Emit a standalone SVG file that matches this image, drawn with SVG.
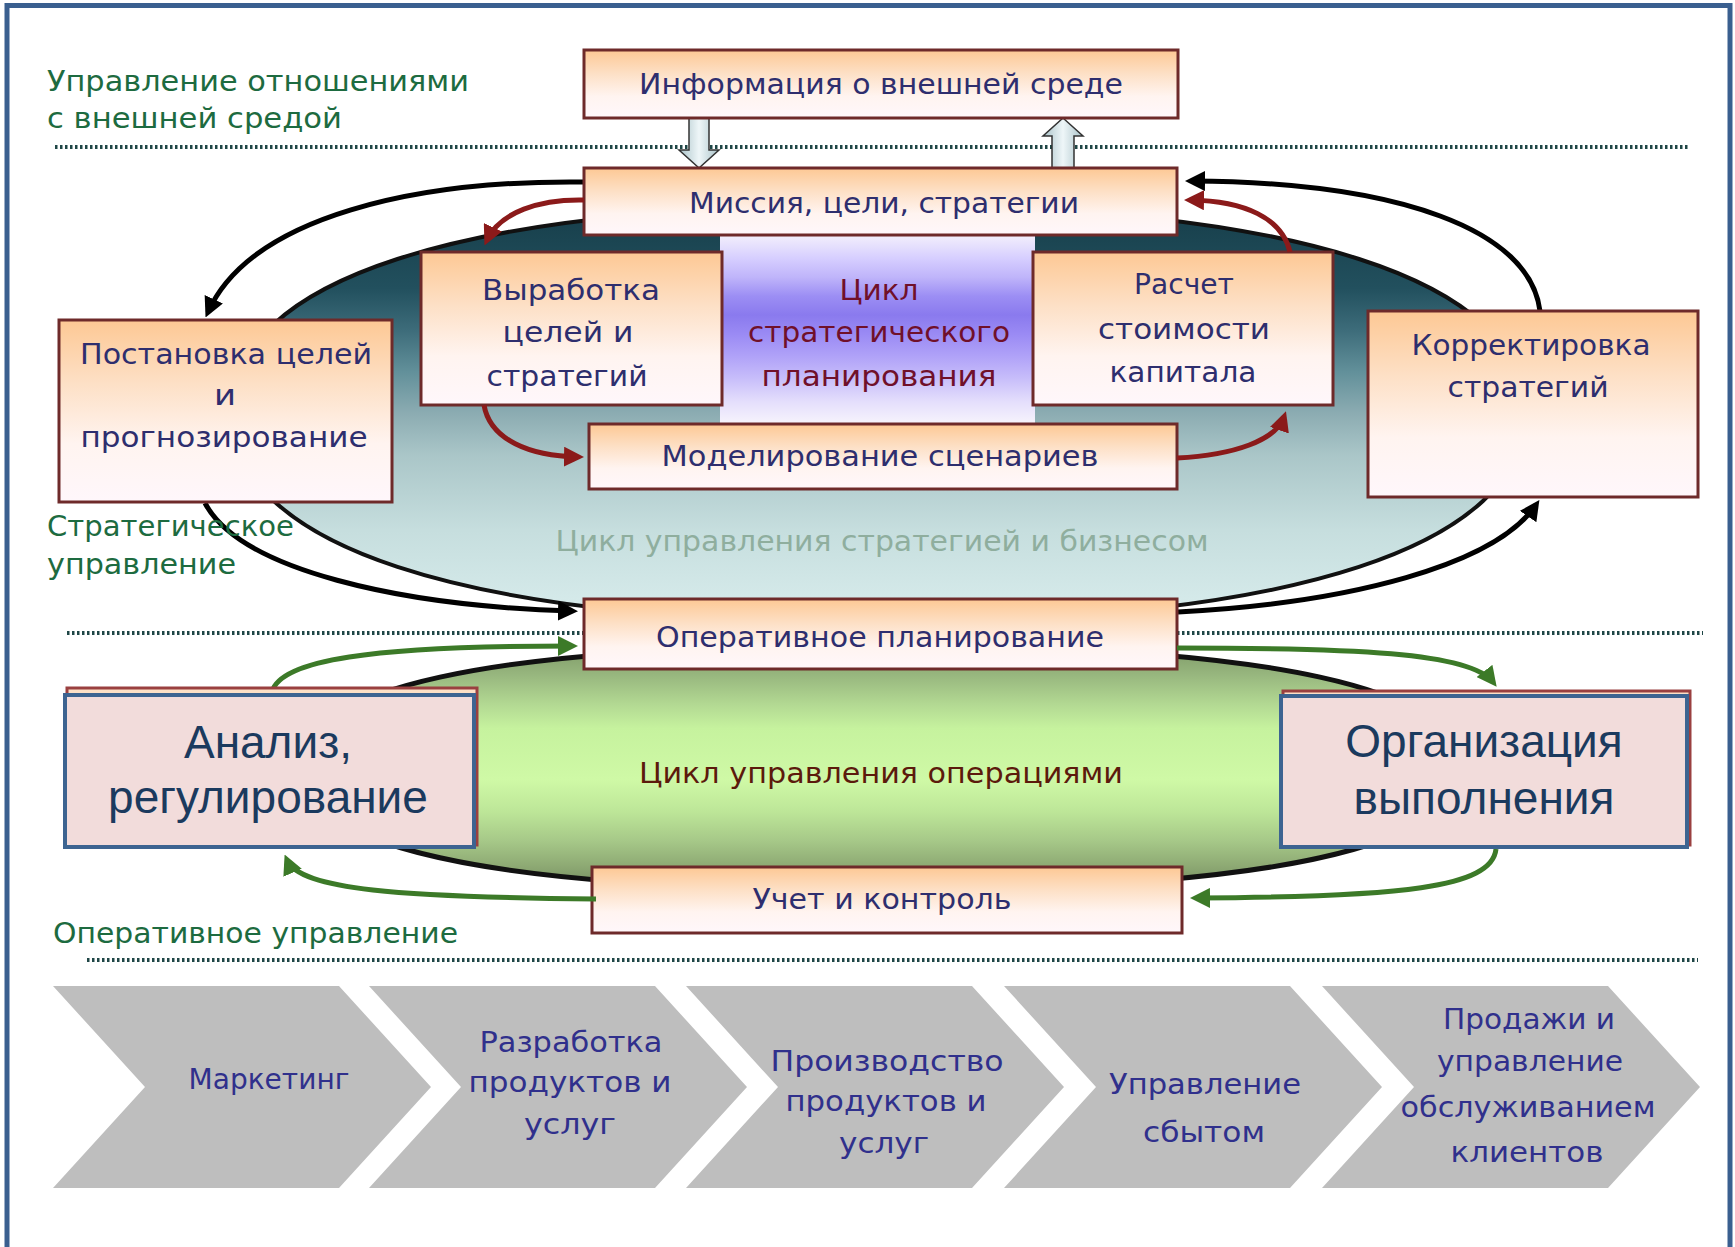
<svg xmlns="http://www.w3.org/2000/svg" width="1735" height="1247" viewBox="0 0 1735 1247">
<defs>
  <linearGradient id="boxg" x1="0" y1="0" x2="0" y2="1">
    <stop offset="0" stop-color="#fdc894"/>
    <stop offset="0.35" stop-color="#fde0c6"/>
    <stop offset="0.68" stop-color="#fff4f0"/>
    <stop offset="1" stop-color="#fff7fb"/>
  </linearGradient>
  <linearGradient id="stratg" gradientUnits="userSpaceOnUse" x1="0" y1="205" x2="0" y2="622">
    <stop offset="0" stop-color="#163d49"/>
    <stop offset="0.2" stop-color="#22505e"/>
    <stop offset="0.3" stop-color="#3d6c7a"/>
    <stop offset="0.4" stop-color="#62909a"/>
    <stop offset="0.5" stop-color="#8cacb2"/>
    <stop offset="0.6" stop-color="#aac6c8"/>
    <stop offset="0.78" stop-color="#c6dede"/>
    <stop offset="1" stop-color="#d9eded"/>
  </linearGradient>
  <linearGradient id="purpg" gradientUnits="userSpaceOnUse" x1="0" y1="236" x2="0" y2="424">
    <stop offset="0" stop-color="#f2eefc"/>
    <stop offset="0.12" stop-color="#d6ceff"/>
    <stop offset="0.22" stop-color="#bfb4fa"/>
    <stop offset="0.32" stop-color="#9c8ef4"/>
    <stop offset="0.42" stop-color="#8a7aee"/>
    <stop offset="0.52" stop-color="#9a8af4"/>
    <stop offset="0.64" stop-color="#b0a2f8"/>
    <stop offset="0.76" stop-color="#c8befa"/>
    <stop offset="0.88" stop-color="#e4defc"/>
    <stop offset="1" stop-color="#f7f4fc"/>
  </linearGradient>
  <linearGradient id="greeng" gradientUnits="userSpaceOnUse" x1="0" y1="645" x2="0" y2="890">
    <stop offset="0" stop-color="#7d9866"/>
    <stop offset="0.12" stop-color="#97b67e"/>
    <stop offset="0.24" stop-color="#b2d892"/>
    <stop offset="0.34" stop-color="#c6f29e"/>
    <stop offset="0.55" stop-color="#cff9a6"/>
    <stop offset="0.68" stop-color="#bde698"/>
    <stop offset="0.8" stop-color="#a6c888"/>
    <stop offset="0.9" stop-color="#8eaa74"/>
    <stop offset="1" stop-color="#728a5e"/>
  </linearGradient>
  <linearGradient id="hollowg" x1="0" y1="0" x2="1" y2="0">
    <stop offset="0" stop-color="#a9c2c8"/>
    <stop offset="0.5" stop-color="#eef6f8"/>
    <stop offset="1" stop-color="#a9c2c8"/>
  </linearGradient>
  <marker id="mb" viewBox="0 0 10 10" refX="7" refY="5" markerWidth="4" markerHeight="4" orient="auto"><path d="M0,0 L10,5 L0,10 Z" fill="#000"/></marker>
  <marker id="mr" viewBox="0 0 10 10" refX="7" refY="5" markerWidth="4" markerHeight="4" orient="auto"><path d="M0,0 L10,5 L0,10 Z" fill="#8b1a1a"/></marker>
  <marker id="mg" viewBox="0 0 10 10" refX="7" refY="5" markerWidth="4" markerHeight="4" orient="auto"><path d="M0,0 L10,5 L0,10 Z" fill="#3c7a28"/></marker>
</defs>
<style>
  .box { fill: url(#boxg); stroke: #6e2a2a; stroke-width: 3; }
  .ov { fill: #f2dcdb; stroke: #3d6491; stroke-width: 4; }
  .under { fill: #fde0c6; stroke: #9a4040; stroke-width: 3; }
  .t { font-family: "DejaVu Sans", "Liberation Sans", sans-serif; font-size: 28px; fill: #2e2e6e; text-anchor: middle; }
  .ct { font-family: "DejaVu Sans", "Liberation Sans", sans-serif; font-size: 28px; fill: #30308c; text-anchor: middle; }
  .sec { font-family: "DejaVu Sans", "Liberation Sans", sans-serif; font-size: 29px; fill: #1d6b40; }
  .big { font-family: "Liberation Sans", Arial, sans-serif; font-size: 46px; fill: #1b3a5e; text-anchor: middle; }
  .dot { stroke: #1f4646; stroke-width: 4; stroke-dasharray: 2.5 2.5; fill: none; }
  .ab { fill: none; stroke: #000; stroke-width: 5; marker-end: url(#mb); }
  .ar { fill: none; stroke: #8b1a1a; stroke-width: 5; marker-end: url(#mr); }
  .ag { fill: none; stroke: #3c7a28; stroke-width: 5; marker-end: url(#mg); }
  .hollow { fill: url(#hollowg); stroke: #333; stroke-width: 1.5; }
  .chev { fill: #bebebe; }
</style>

<rect x="0" y="0" width="1735" height="1247" fill="#ffffff"/>
<rect x="7" y="5.5" width="1723" height="1270" fill="none" stroke="#3a5f8f" stroke-width="5"/>

<!-- background cycles -->
<g id="strategic-cycle">
  <path d="M 232,412 C 232,280 458,205 878,205 C 1298,205 1525,280 1525,412 C 1525,545 1298,622 878,622 C 458,622 232,545 232,412 Z" fill="url(#stratg)" stroke="#111" stroke-width="4"/>
  <rect x="720" y="236" width="315" height="188" fill="url(#purpg)"/>
</g>
<g id="operations-cycle">
  <path d="M 300,767 C 300,690 480,645 880,645 C 1280,645 1460,690 1460,767 C 1460,845 1280,890 880,890 C 480,890 300,845 300,767 Z" fill="url(#greeng)" stroke="#111" stroke-width="5"/>
</g>

<!-- dotted separators -->
<g id="separators">
  <line class="dot" x1="55" y1="147" x2="1690" y2="147"/>
  <line class="dot" x1="67" y1="633" x2="1703" y2="633"/>
  <line class="dot" x1="87" y1="960" x2="1698" y2="960"/>
</g>

<!-- connectors -->
<g id="connectors">
  <path class="ab" d="M 584,182 C 420,180 252,215 208,312"/>
  <path class="ab" d="M 205,503 C 240,570 400,606 572,611"/>
  <path class="ab" d="M 1178,612 C 1350,603 1495,565 1536,505"/>
  <path class="ab" d="M 1540,311 C 1530,230 1400,182 1191,181"/>
  <path class="hollow" d="M 689,116 L 709,116 L 709,150 L 719,150 L 699,168 L 679,150 L 689,150 Z"/>
  <path class="hollow" d="M 1063,118 L 1083,136 L 1074,136 L 1074,172 L 1052,172 L 1052,136 L 1043,136 Z"/>
</g>

<!-- nodes -->
<g id="node-info"><rect class="box" x="584" y="50" width="594" height="68"/>
  <text class="t" x="881" y="94" textLength="484" lengthAdjust="spacingAndGlyphs">Информация о внешней среде</text></g>
<g id="node-mission"><rect class="box" x="584" y="168" width="593" height="67"/>
  <text class="t" x="884" y="213" textLength="390" lengthAdjust="spacingAndGlyphs">Миссия, цели, стратегии</text></g>
<g id="node-vyrabotka"><rect class="box" x="421" y="252" width="301" height="153"/>
  <text class="t" x="571" y="300" textLength="178" lengthAdjust="spacingAndGlyphs">Выработка</text>
  <text class="t" x="568" y="342" textLength="131" lengthAdjust="spacingAndGlyphs">целей и</text>
  <text class="t" x="567" y="386" textLength="161" lengthAdjust="spacingAndGlyphs">стратегий</text></g>
<g id="label-strat-planning">
  <text class="t" style="fill:#70102a" x="879" y="300" textLength="79" lengthAdjust="spacingAndGlyphs">Цикл</text>
  <text class="t" style="fill:#70102a" x="879" y="342" textLength="262" lengthAdjust="spacingAndGlyphs">стратегического</text>
  <text class="t" style="fill:#70102a" x="879" y="386" textLength="235" lengthAdjust="spacingAndGlyphs">планирования</text></g>
<g id="node-raschet"><rect class="box" x="1033" y="252" width="300" height="153"/>
  <text class="t" x="1184" y="294" textLength="100" lengthAdjust="spacingAndGlyphs">Расчет</text>
  <text class="t" x="1184" y="339" textLength="172" lengthAdjust="spacingAndGlyphs">стоимости</text>
  <text class="t" x="1183" y="382" textLength="147" lengthAdjust="spacingAndGlyphs">капитала</text></g>
<g id="node-model"><rect class="box" x="589" y="424" width="588" height="65"/>
  <text class="t" x="880" y="466" textLength="437" lengthAdjust="spacingAndGlyphs">Моделирование сценариев</text></g>
<g id="node-postanovka"><rect class="box" x="59" y="320" width="333" height="182"/>
  <text class="t" x="226" y="364" textLength="292" lengthAdjust="spacingAndGlyphs">Постановка целей</text>
  <text class="t" x="225" y="405" textLength="22" lengthAdjust="spacingAndGlyphs">и</text>
  <text class="t" x="224" y="447" textLength="287" lengthAdjust="spacingAndGlyphs">прогнозирование</text></g>
<g id="node-korr"><rect class="box" x="1368" y="311" width="330" height="186"/>
  <text class="t" x="1531" y="355" textLength="239" lengthAdjust="spacingAndGlyphs">Корректировка</text>
  <text class="t" x="1528" y="397" textLength="161" lengthAdjust="spacingAndGlyphs">стратегий</text></g>
<g id="node-oper"><rect class="box" x="584" y="599" width="593" height="70"/>
  <text class="t" x="880" y="647" textLength="448" lengthAdjust="spacingAndGlyphs">Оперативное планирование</text></g>
<g id="node-uchet"><rect class="box" x="592" y="867" width="590" height="66"/>
  <text class="t" x="882" y="909" textLength="259" lengthAdjust="spacingAndGlyphs">Учет и контроль</text></g>

<g id="connectors-inner">
  <path class="ar" d="M 584,200 C 540,199 500,212 487,240"/>
  <path class="ar" d="M 484,405 C 490,440 530,456 578,457"/>
  <path class="ar" d="M 1177,458 C 1235,455 1276,440 1284,417"/>
  <path class="ar" d="M 1290,252 C 1282,218 1245,201 1190,200"/>
  <path class="ag" d="M 272,692 C 280,660 370,646 572,646"/>
  <path class="ag" d="M 1177,648 C 1350,648 1470,652 1493,682"/>
  <path class="ag" d="M 1496,849 C 1492,888 1400,897 1196,898"/>
  <path class="ag" d="M 596,899 C 400,897 300,890 287,860"/>
</g>

<g id="node-analiz">
  <rect class="under" x="67" y="688" width="410" height="157"/>
  <rect class="ov" x="65" y="695" width="409" height="152"/>
  <text class="big" x="268" y="758">Анализ,</text>
  <text class="big" x="268" y="813">регулирование</text></g>
<g id="node-org">
  <rect class="under" x="1283" y="691" width="407" height="154"/>
  <rect class="ov" x="1281" y="696" width="406" height="151"/>
  <text class="big" x="1484" y="757">Организация</text>
  <text class="big" x="1484" y="814">выполнения</text></g>

<!-- labels -->
<g id="labels">
  <text class="sec" x="47" y="91" textLength="422" lengthAdjust="spacingAndGlyphs">Управление отношениями</text>
  <text class="sec" x="47" y="128" textLength="295" lengthAdjust="spacingAndGlyphs">с внешней средой</text>
  <text class="sec" x="47" y="536" textLength="247" lengthAdjust="spacingAndGlyphs">Стратегическое</text>
  <text class="sec" x="47" y="574" textLength="189" lengthAdjust="spacingAndGlyphs">управление</text>
  <text class="sec" x="53" y="943" textLength="405" lengthAdjust="spacingAndGlyphs">Оперативное управление</text>
  <text class="t" style="fill:#8fae9e" x="882" y="551" textLength="653" lengthAdjust="spacingAndGlyphs">Цикл управления стратегией и бизнесом</text>
  <text class="t" style="fill:#5c1a0c" x="881" y="783" textLength="484" lengthAdjust="spacingAndGlyphs">Цикл управления операциями</text>
</g>

<!-- value chain -->
<g id="chain-1"><polygon class="chev" points="53,986 339,986 431,1087 339,1188 53,1188 145,1087"/>
  <text class="ct" x="269" y="1089" textLength="161" lengthAdjust="spacingAndGlyphs">Маркетинг</text></g>
<g id="chain-2"><polygon class="chev" points="369,986 655,986 747,1087 655,1188 369,1188 461,1087"/>
  <text class="ct" x="571" y="1052" textLength="183" lengthAdjust="spacingAndGlyphs">Разработка</text>
  <text class="ct" x="570" y="1092" textLength="203" lengthAdjust="spacingAndGlyphs">продуктов и</text>
  <text class="ct" x="570" y="1134" textLength="92" lengthAdjust="spacingAndGlyphs">услуг</text></g>
<g id="chain-3"><polygon class="chev" points="686,986 972,986 1064,1087 972,1188 686,1188 778,1087"/>
  <text class="ct" x="887" y="1071" textLength="233" lengthAdjust="spacingAndGlyphs">Производство</text>
  <text class="ct" x="886" y="1111" textLength="201" lengthAdjust="spacingAndGlyphs">продуктов и</text>
  <text class="ct" x="884" y="1153" textLength="90" lengthAdjust="spacingAndGlyphs">услуг</text></g>
<g id="chain-4"><polygon class="chev" points="1004,986 1290,986 1382,1087 1290,1188 1004,1188 1096,1087"/>
  <text class="ct" x="1205" y="1094" textLength="192" lengthAdjust="spacingAndGlyphs">Управление</text>
  <text class="ct" x="1204" y="1142" textLength="122" lengthAdjust="spacingAndGlyphs">сбытом</text></g>
<g id="chain-5"><polygon class="chev" points="1322,986 1608,986 1700,1087 1608,1188 1322,1188 1414,1087"/>
  <text class="ct" x="1529" y="1029" textLength="172" lengthAdjust="spacingAndGlyphs">Продажи и</text>
  <text class="ct" x="1530" y="1071" textLength="186" lengthAdjust="spacingAndGlyphs">управление</text>
  <text class="ct" x="1528" y="1117" textLength="255" lengthAdjust="spacingAndGlyphs">обслуживанием</text>
  <text class="ct" x="1527" y="1162" textLength="153" lengthAdjust="spacingAndGlyphs">клиентов</text></g>
</svg>
